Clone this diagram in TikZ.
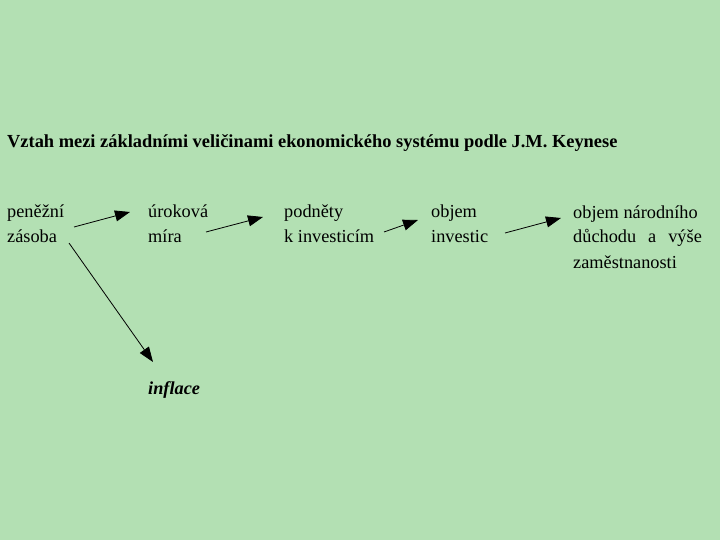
\documentclass[tikz,border=0pt]{standalone}
\usepackage{fontspec}
\setmainfont{Liberation Serif}
\usetikzlibrary{arrows.meta}
\definecolor{bg}{RGB}{179,224,179}
\newcommand\mybodyfont{\fontsize{18.3}{25}\selectfont\setlength{\lineskiplimit}{-30pt}}
\begin{document}
\begin{tikzpicture}[x=1pt,y=-1pt,
  lbl/.style={anchor=base west,inner sep=0pt,align=left,font=\mybodyfont},
  arr/.style={-{Triangle[length=15pt,width=11pt]},line width=0.8pt}]
\fill[bg] (0,0) rectangle (720,540);
\useasboundingbox (0,0) rectangle (720,540);
\node[anchor=base west,inner sep=0pt,font=\fontsize{18.4}{22}\bfseries\selectfont] (title) at (7,148)
  {Vztah mezi základními veličinami ekonomického systému podle J.M. Keynese};
% base anchor of a multi-line node = baseline of its last line
\node[lbl] (a) at (7,243) {peněžní\\zásoba};
\node[lbl] (b) at (148,243) {úroková\\míra};
\node[lbl] (c) at (284,243) {podněty\\k investicím};
\node[lbl] (d) at (431,243) {objem\\investic};
\node[lbl] (e) at (573,268) {objem národního\\důchodu\hspace{12pt}a\hspace{12pt}výše\\zaměstnanosti};
\node[lbl,font=\mybodyfont\bfseries\itshape] (f) at (148,394) {inflace};
\coordinate (a1) at (74,227);
\coordinate (b0) at (130,212);
\coordinate (b1) at (206,232);
\coordinate (c0) at (263,217);
\coordinate (c1) at (384,232);
\coordinate (d0) at (418,220);
\coordinate (d1) at (505,233);
\coordinate (e0) at (561,218);
\coordinate (a2) at (69,243);
\coordinate (f0) at (153,362);
\draw[arr] (a1) -- (b0);
\draw[arr] (b1) -- (c0);
\draw[arr] (c1) -- (d0);
\draw[arr] (d1) -- (e0);
\draw[arr] (a2) -- (f0);
\end{tikzpicture}
\end{document}
